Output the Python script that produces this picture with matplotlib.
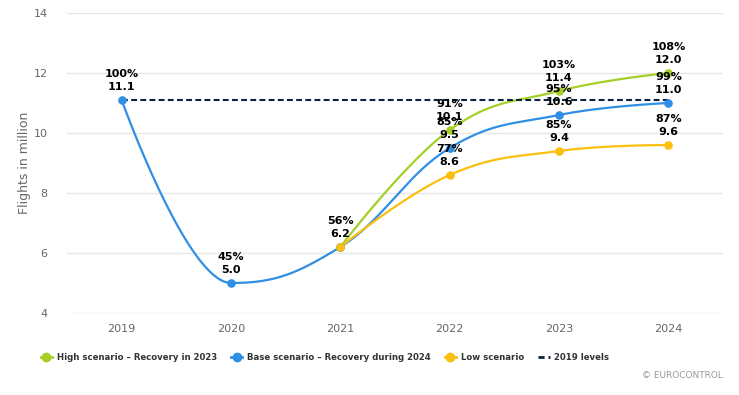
import numpy as np
import matplotlib
matplotlib.use('Agg')
import matplotlib.pyplot as plt
from matplotlib.lines import Line2D
from matplotlib import font_manager as fm

# ---------------------------------------------------------------------
# Data
# ---------------------------------------------------------------------
years = ['2019', '2020', '2021', '2022', '2023', '2024']

base_vals = [11.1, 5.0, 6.2, 9.5, 10.6, 11.0]
base_pct = ['100%', '45%', '56%', '85%', '95%', '99%']

high_start = 2  # high and low scenarios start in 2021
high_vals = [6.2, 10.1, 11.4, 12.0]
high_pct = ['56%', '91%', '103%', '108%']

low_vals = [6.2, 8.6, 9.4, 9.6]
low_pct = ['56%', '77%', '85%', '87%']

level_2019 = 11.1

GREEN = '#a4cf26'
BLUE = '#2f8fe4'
YELLOW = '#fbbf10'
NAVY = '#0e2142'


def spline_path(xs, ys, smoothing=1.5, n=40):
    """Highcharts-style spline through the points."""
    xs = np.asarray(xs, float)
    ys = np.asarray(ys, float)
    m = len(xs)
    left = [(x, y) for x, y in zip(xs, ys)]
    right = [(x, y) for x, y in zip(xs, ys)]
    d = smoothing + 1
    for i in range(1, m - 1):
        px, py = xs[i], ys[i]
        lx, ly = xs[i - 1], ys[i - 1]
        nx, ny = xs[i + 1], ys[i + 1]
        lcx = (smoothing * px + lx) / d
        lcy = (smoothing * py + ly) / d
        rcx = (smoothing * px + nx) / d
        rcy = (smoothing * py + ny) / d
        if rcx != lcx:
            corr = (rcy - lcy) * (rcx - px) / (rcx - lcx) + py - rcy
            lcy += corr
            rcy += corr
        if lcy > ly and lcy > py:
            lcy = max(ly, py)
            rcy = 2 * py - lcy
        elif lcy < ly and lcy < py:
            lcy = min(ly, py)
            rcy = 2 * py - lcy
        if rcy > ny and rcy > py:
            rcy = max(ny, py)
            lcy = 2 * py - rcy
        elif rcy < ny and rcy < py:
            rcy = min(ny, py)
            lcy = 2 * py - rcy
        left[i] = (lcx, lcy)
        right[i] = (rcx, rcy)
    t = np.linspace(0, 1, n)[:, None]
    out = []
    for i in range(1, m):
        p0 = np.array([xs[i - 1], ys[i - 1]])
        p1 = np.array(right[i - 1])
        p2 = np.array(left[i])
        p3 = np.array([xs[i], ys[i]])
        seg = ((1 - t) ** 3) * p0 + 3 * ((1 - t) ** 2) * t * p1 + 3 * (1 - t) * t ** 2 * p2 + t ** 3 * p3
        out.append(seg if i == 1 else seg[1:])
    pts = np.vstack(out)
    return pts[:, 0], pts[:, 1]


def narrow_bold_font():
    # legend in the reference uses a condensed face; pick one if installed
    for f in fm.fontManager.ttflist:
        low = f.fname.lower()
        if ('narrow' in low or 'condensed' in low) and 'bold' in low \
                and 'italic' not in low and 'oblique' not in low:
            return fm.FontProperties(fname=f.fname)
    return fm.FontProperties(family='DejaVu Sans', weight='bold')


fig = plt.figure(figsize=(7.39, 3.95), dpi=100)
ax = fig.add_axes([67 / 739, 82 / 395, 656 / 739, 300 / 395])

x_all = np.arange(len(years))
x_late = x_all[high_start:]

series = [
    (x_late, high_vals, high_pct, GREEN),
    (x_all, base_vals, base_pct, BLUE),
    (x_late, low_vals, low_pct, YELLOW),
]

ax.plot([x_all[0], x_all[-1]], [level_2019, level_2019], color=NAVY, lw=1.5,
        dashes=(2.8, 1.6), zorder=4)

for xs, vals, pcts, col in series:
    sx, sy = spline_path(xs, vals)
    ax.plot(sx, sy, color=col, lw=1.6, zorder=3, solid_capstyle='round')
    ax.plot(xs, vals, 'o', color=col, ms=6.2, zorder=5, markeredgewidth=0)

# data labels (shared 2021 start point labelled once)
done = set()
for xs, vals, pcts, col in series:
    for x, v, p in zip(xs, vals, pcts):
        if (x, v) in done:
            continue
        done.add((x, v))
        ax.annotate(f'{v:.1f}', (x, v), xytext=(0, 5.5), textcoords='offset points',
                    ha='center', va='bottom', fontsize=8, fontweight='bold',
                    color='black', zorder=6)
        ax.annotate(p, (x, v), xytext=(0, 15), textcoords='offset points',
                    ha='center', va='bottom', fontsize=8, fontweight='bold',
                    color='black', zorder=6)

ax.set_xlim(-0.5, len(years) - 0.5)
ax.set_ylim(4, 14)
ax.set_yticks([4, 6, 8, 10, 12, 14])
ax.set_xticks(x_all)
ax.set_xticklabels(years)
ax.grid(axis='y', color='#e6e6e6', lw=1)
ax.set_axisbelow(True)
for s in ax.spines.values():
    s.set_visible(False)
ax.tick_params(length=0, colors='#666666', labelsize=8)
ax.tick_params(axis='y', pad=14)
ax.tick_params(axis='x', pad=8)
ax.set_ylabel('Flights in million', color='#666666', fontsize=9, labelpad=2)

handles = [
    Line2D([], [], color=GREEN, lw=2, marker='o', ms=6),
    Line2D([], [], color=BLUE, lw=2, marker='o', ms=6),
    Line2D([], [], color=YELLOW, lw=2, marker='o', ms=6),
    Line2D([], [], color=NAVY, lw=2, dashes=(2.2, 1.4)),
]
labels = ['High scenario \u2013 Recovery in 2023',
          'Base scenario \u2013 Recovery during 2024',
          'Low scenario', '2019 levels']

prop = narrow_bold_font()
prop.set_size(6.8)
fig.legend(handles, labels, loc='center left',
           bbox_to_anchor=(32 / 739, 1 - 358 / 395),
           ncol=4, frameon=False, handlelength=1.2, handletextpad=0.5,
           columnspacing=1.5, prop=prop, labelcolor='#333333')

fig.text(723 / 739, 1 - 376 / 395, '\u00a9 EUROCONTROL', ha='right', va='center',
         fontsize=6.5, color='#999999')

fig.savefig('out.png', dpi=100)
